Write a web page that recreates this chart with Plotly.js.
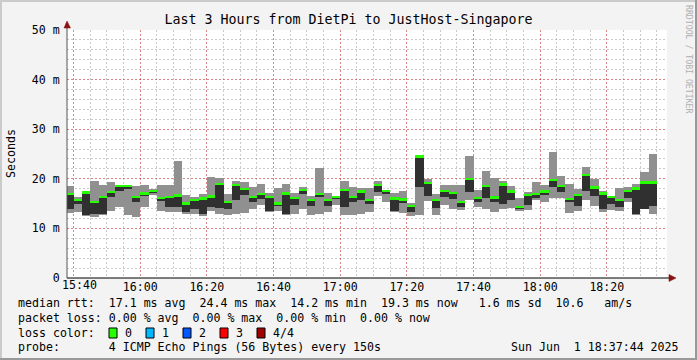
<!DOCTYPE html>
<html><head><meta charset="utf-8">
<script src="https://cdn.plot.ly/plotly-3.0.1.min.js"></script>
<style>html,body{margin:0;padding:0;background:#f3f3f3;}#chart{width:697px;height:360px;}</style>
</head><body><div id="chart"></div>
<script>
const day = '2025-06-01 ';
const stepEnds = [
"15:40:00","15:42:30","15:45:00","15:47:30","15:50:00","15:52:30","15:55:00","15:57:30",
"16:00:00","16:02:30","16:05:00","16:07:30","16:10:00","16:12:30","16:15:00","16:17:30",
"16:20:00","16:22:30","16:25:00","16:27:30","16:30:00","16:32:30","16:35:00","16:37:30",
"16:40:00","16:42:30","16:45:00","16:47:30","16:50:00","16:52:30","16:55:00","16:57:30",
"17:00:00","17:02:30","17:05:00","17:07:30","17:10:00","17:12:30","17:15:00","17:17:30",
"17:20:00","17:22:30","17:25:00","17:27:30","17:30:00","17:32:30","17:35:00","17:37:30",
"17:40:00","17:42:30","17:45:00","17:47:30","17:50:00","17:52:30","17:55:00","17:57:30",
"18:00:00","18:02:30","18:05:00","18:07:30","18:10:00","18:12:30","18:15:00","18:17:30",
"18:20:00","18:22:30","18:25:00","18:27:30","18:30:00","18:32:30","18:35:00"];

const pingMax = [
18.5,16.4,17.4,19.6,18.8,19.4,18.7,18.7,18.5,18.7,17.9,18.7,
18.7,23.5,16.7,16.3,16.9,20.4,20.1,16.9,19.6,19.4,18.3,19.0,
17.2,18.2,19.0,17.1,18.3,16.5,22.2,17.1,16.4,19.6,18.4,18.1,
18.2,19.6,17.7,17.1,17.5,15.1,24.8,20.0,16.9,18.7,18.7,18.7,
24.5,17.7,21.6,20.1,19.6,18.5,16.2,17.4,19.4,18.7,25.5,20.6,
19.0,17.9,22.4,20.0,17.5,16.5,18.2,18.4,19.0,21.4,25.0];

const pingMedian = [
16.9,15.7,17.2,15.3,16.3,17.3,18.5,18.6,16.3,17.0,17.5,16.1,
16.3,16.6,15.0,15.7,16.0,16.4,19.0,15.3,18.7,17.9,16.3,16.9,
16.3,15.0,17.0,16.1,17.7,15.7,16.9,15.7,16.3,17.7,16.3,17.4,
15.7,18.8,17.5,16.0,15.8,14.5,24.5,19.2,15.7,17.5,17.1,15.3,
20.0,16.1,18.5,16.2,18.9,17.4,14.3,16.7,16.9,17.4,19.8,18.6,
15.9,16.7,20.8,18.2,17.0,16.3,15.7,17.5,18.0,19.3,19.3];

const pingLow = [
13.9,14.9,12.7,13.0,12.9,16.4,17.6,18.0,15.3,16.6,17.2,15.5,
14.4,14.4,13.4,13.9,13.0,14.4,14.2,14.0,15.7,16.7,15.3,15.9,
13.5,14.6,12.9,14.7,16.9,14.6,16.4,14.6,15.9,14.4,15.3,15.7,
14.9,17.4,16.9,13.6,15.1,13.4,18.4,16.6,14.2,16.3,15.9,14.4,
17.4,15.4,16.2,15.3,14.9,15.7,14.0,14.7,16.1,16.7,18.4,17.4,
15.4,14.5,17.6,16.6,14.0,14.9,14.4,16.1,12.9,14.0,14.5];

const pingMin = [
13.2,13.4,12.5,12.4,12.8,13.5,14.4,12.7,12.4,14.4,16.7,13.6,
13.4,13.4,13.0,13.0,12.5,13.6,12.9,12.8,12.9,13.2,14.0,14.7,
13.4,13.6,12.7,13.0,13.9,12.8,12.9,13.4,14.7,12.7,12.7,13.0,
13.4,16.6,15.4,13.4,13.2,12.6,12.7,15.5,12.7,14.7,13.9,13.7,
15.7,14.4,14.0,13.4,14.0,14.2,13.6,13.8,15.7,15.3,16.1,16.1,
13.2,13.6,15.7,14.6,13.4,13.8,13.6,15.3,12.7,13.9,13.0];

const xTickVals = ["15:40:00","16:00:00","16:20:00","16:40:00","17:00:00","17:20:00","17:40:00","18:00:00","18:20:00"];
const xTickText = ["15:40","16:00","16:20","16:40","17:00","17:20","17:40","18:00","18:20"];
const yTickVals = [0,10,20,30,40,50];
const yTickText = ['0','10 m','20 m','30 m','40 m','50 m'];
const lossLabels = ['0','1','2','3','4/4'];
const lossColors = ['#26ff00','#00b8ff','#0059ff','#ff0000','#a00000'];
const titleText = 'Last 3 Hours from DietPi to JustHost-Singapore';
const statLines = [
 'median rtt:  17.1 ms avg  24.4 ms max  14.2 ms min  19.3 ms now   1.6 ms sd  10.6   am/s',
 'packet loss: 0.00 % avg  0.00 % max  0.00 % min  0.00 % now',
 'loss color:',
 'probe:       4 ICMP Echo Pings (56 Bytes) every 150s'];
const stampText = 'Sun Jun  1 18:37:44 2025';
const sideText = 'RRDTOOL / TOBI OETIKER';

const X = stepEnds.map(t => day + t);
const STEP = 150000;
const MONO = 'DejaVu Sans Mono';
const FS = 11.6;
// pixel helpers for plot area (l=67,r=667,t=30,b=278)
const px = p => (p - 67) / 600;
const py = p => (278 - p) / 248;

const common = {type:'bar', x:X, width:STEP, offset:-STEP, hoverinfo:'skip', showlegend:false};
const traces = [
 Object.assign({}, common, {base:pingMin, y:pingMax.map((v,i)=>v-pingMin[i]), marker:{color:'#909090', line:{width:0}}}),
 Object.assign({}, common, {base:pingLow, y:pingMedian.map((v,i)=>v-pingLow[i]), marker:{color:'#303030', line:{width:0}}}),
 Object.assign({}, common, {base:pingMedian.map(v=>v-0.25), y:pingMedian.map(()=>0.5), marker:{color:lossColors[0], line:{width:0}}})
];

const shapes = [];
const annotations = [];
// frame
shapes.push({type:'rect', xref:'paper', yref:'paper', x0:px(0), x1:px(697), y0:py(2), y1:py(0), fillcolor:'#cbcbcb', line:{width:0}});
shapes.push({type:'rect', xref:'paper', yref:'paper', x0:px(0), x1:px(2), y0:py(360), y1:py(0), fillcolor:'#cbcbcb', line:{width:0}});
shapes.push({type:'rect', xref:'paper', yref:'paper', x0:px(695), x1:px(697), y0:py(360), y1:py(0), fillcolor:'#999999', line:{width:0}});
shapes.push({type:'rect', xref:'paper', yref:'paper', x0:px(0), x1:px(697), y0:py(360), y1:py(358), fillcolor:'#999999', line:{width:0}});
// axis lines + arrows
shapes.push({type:'line', xref:'paper', yref:'paper', x0:px(67), x1:px(67), y0:py(278), y1:py(26), line:{color:'#555555', width:1}});
shapes.push({type:'line', xref:'paper', yref:'paper', x0:px(67), x1:px(671), y0:py(278), y1:py(278), line:{color:'#000000', width:1}});
shapes.push({type:'path', xref:'paper', yref:'paper', path:`M ${px(64)} ${py(28)} L ${px(70.5)} ${py(28)} L ${px(67)} ${py(21)} Z`, fillcolor:'#8b1010', line:{color:'#8b1010', width:0.5}});
shapes.push({type:'path', xref:'paper', yref:'paper', path:`M ${px(669)} ${py(274.5)} L ${px(669)} ${py(281.5)} L ${px(676)} ${py(278)} Z`, fillcolor:'#8b1010', line:{color:'#8b1010', width:0.5}});

// stats text
const rowsY = [303, 318, 333, 347];
statLines.forEach((t,i)=>annotations.push({xref:'paper', yref:'paper', x:px(16), y:py(rowsY[i]), xanchor:'left', yanchor:'middle', text:t.replace(/ /g,'&nbsp;'), showarrow:false, font:{family:MONO, size:FS, color:'#000'}}));
annotations.push({xref:'paper', yref:'paper', x:px(681), y:py(347), xanchor:'right', yanchor:'middle', text:stampText.replace(/ /g,'&nbsp;'), showarrow:false, font:{family:MONO, size:FS, color:'#000'}});
// loss legend
const sqX = [109, 146, 183, 220, 257];
lossLabels.forEach((lab,i)=>{
  shapes.push({type:'rect', xref:'paper', yref:'paper', x0:px(sqX[i]), x1:px(sqX[i]+8), y0:py(338), y1:py(328), fillcolor:lossColors[i], line:{color:'#000', width:1}});
  annotations.push({xref:'paper', yref:'paper', x:px(sqX[i]+14), y:py(333), xanchor:'left', yanchor:'middle', text:lab, showarrow:false, font:{family:MONO, size:FS, color:'#000'}});
});
// first x tick label (shifted inside like RRDtool)
annotations.push({xref:'paper', yref:'paper', x:px(79), y:py(285), xanchor:'center', yanchor:'middle', text:xTickText[0], showarrow:false, font:{family:MONO, size:FS, color:'#000'}});
// y title
annotations.push({xref:'paper', yref:'paper', x:px(11), y:0.5, xanchor:'center', yanchor:'middle', textangle:-90, text:'Seconds', showarrow:false, font:{family:MONO, size:FS, color:'#000'}});
// side text
annotations.push({xref:'paper', yref:'paper', x:px(689), y:py(59), xanchor:'center', yanchor:'middle', textangle:90, text:sideText, showarrow:false, font:{family:MONO, size:8.2, color:'#b0b0b0'}});

const layout = {
  width:697, height:360,
  margin:{l:67, r:30, t:30, b:82, pad:0},
  paper_bgcolor:'#f3f3f3', plot_bgcolor:'#ffffff',
  barmode:'overlay', bargap:0,
  title:{text:titleText, x:0.5, xref:'container', xanchor:'center', y:1-19/360, yref:'container', yanchor:'middle', font:{family:MONO, size:13.3, color:'#000'}},
  font:{family:MONO, size:FS, color:'#000'},
  xaxis:{type:'date', range:[day+'15:38:03', day+'18:38:03'], tickmode:'array', tickvals:xTickVals.map(t=>day+t), ticktext:['',...xTickText.slice(1)],
    showgrid:true, gridcolor:'rgba(255,0,0,0.35)', griddash:'2px,2px', gridwidth:1,
    minor:{tickmode:'linear', dtick:5*60000, tick0:day+'15:40:00', showgrid:true, gridcolor:'rgba(140,140,140,0.45)', griddash:'2px,2px', gridwidth:1},
    showline:false, zeroline:false, ticks:'', ticklabelstandoff:0, tickfont:{family:MONO, size:FS, color:'#000'}, fixedrange:true},
  yaxis:{range:[0,50], tickmode:'array', tickvals:yTickVals, ticktext:yTickText,
    showgrid:true, gridcolor:'rgba(255,0,0,0.35)', griddash:'2px,2px', gridwidth:1,
    minor:{tickmode:'linear', tick0:0, dtick:2, showgrid:true, gridcolor:'rgba(140,140,140,0.45)', griddash:'2px,2px', gridwidth:1},
    showline:false, zeroline:false, ticks:'outside', ticklen:4, tickcolor:'rgba(0,0,0,0)', tickfont:{family:MONO, size:FS, color:'#000'}, fixedrange:true},
  shapes:shapes, annotations:annotations
};
Plotly.newPlot('chart', traces, layout, {staticPlot:true, displayModeBar:false});
</script></body></html>
